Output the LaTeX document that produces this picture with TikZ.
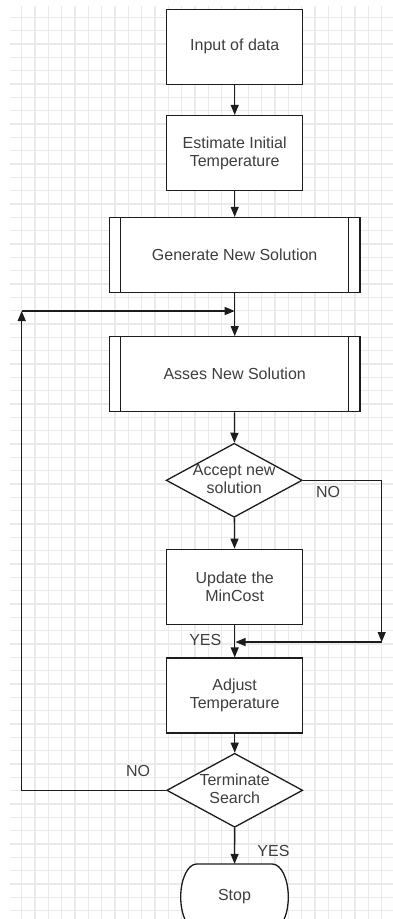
\documentclass[tikz,border=0pt]{standalone}
\usepackage{fontspec}
\setmainfont{Liberation Sans}
\usetikzlibrary{shapes.geometric,arrows.meta}
\definecolor{gridgray}{RGB}{234,234,234}
\definecolor{ink}{RGB}{28,28,28}
\definecolor{txt}{RGB}{62,62,62}

\begin{document}
\begin{tikzpicture}[x=1pt,y=-1pt,
  font=\fontsize{16}{18}\selectfont,
  every node/.style={text=txt},
  box/.style={draw=ink, line width=1.3pt, fill=white, rectangle, align=center,
    minimum width=136pt, minimum height=75pt, inner sep=0pt},
  subproc/.style={box, minimum width=250.7pt,
    path picture={\draw[ink, line width=1.3pt]
      ([xshift=11.3pt]path picture bounding box.north west) -- ([xshift=11.3pt]path picture bounding box.south west)
      ([xshift=-11.3pt]path picture bounding box.north east) -- ([xshift=-11.3pt]path picture bounding box.south east);}},
  decision/.style={draw=ink, line width=1.3pt, fill=white, diamond,
    minimum width=136pt, minimum height=74pt, inner sep=0pt},
  terminal/.style={rectangle, minimum width=107.6pt, minimum height=66pt, inner sep=0pt},
  outline/.style={draw=ink, line width=1.3pt, fill=white},
  flow/.style={draw=ink, line width=1.3pt, -{Triangle[length=10pt,width=8pt]}},
  lbl/.style={inner sep=0pt}
]
\useasboundingbox (0,0) rectangle (393,919);
\clip (0,0) rectangle (393,919);
\fill[white] (0,0) rectangle (393,919);

% drawing grid
\foreach \i in {0,...,27}
  \draw[gridgray, line width=1.5pt] ({21.7+13.333*\i},6) -- ({21.7+13.333*\i},919);
\foreach \j in {0,...,67}
  \draw[gridgray, line width=1.5pt] (10,{17.3+13.333*\j}) -- (393,{17.3+13.333*\j});

% process steps
\node[box] (in) at (234.7,46.7) {Input of data};
\node[box] (est) at (234.7,153) {Estimate Initial\\Temperature};
\node[subproc] (gen) at (234.7,255) {Generate New Solution};
\node[subproc] (asses) at (234.7,374.2) {Asses New Solution};
\node[decision] (acc) at (234.2,480.3)
  {\makebox[0pt]{\smash{\raisebox{-4.5pt}{\begin{tabular}{@{}c@{}}Accept new\\solution\end{tabular}}}}};
\node[box] (upd) at (234.7,586.7) {Update the\\MinCost};
\node[box] (adj) at (234.7,695.5) {Adjust\\Temperature};
\node[decision] (term) at (234.7,790.3)
  {\makebox[0pt]{\smash{\raisebox{-4.5pt}{\begin{tabular}{@{}c@{}}Terminate\\Search\end{tabular}}}}};

% terminator with elliptic ends
\path[outline] (234.5,864) ++(-37.8,0) -- ++(75.6,0)
  arc[start angle=90, end angle=-90, x radius=16pt, y radius=33pt]
  -- ++(-75.6,0)
  arc[start angle=270, end angle=90, x radius=16pt, y radius=33pt] -- cycle;
\node[terminal] (stop) at (234.5,897) {\raisebox{2pt}{Stop}};

% branch corners
\coordinate (lc) at (21.7,311);
\coordinate (lm) at (234.7,311);
\coordinate (rc) at (381.7,642);
\coordinate (rm) at (235.5,642);

% connectors
\draw[flow] (in) -- (est);
\draw[flow] (est) -- (gen);
\draw[flow] (gen) -- (asses);
\draw[flow] (asses) -- (acc);
\draw[flow] (acc) -- (upd);
\draw[flow] (upd) -- (adj);
\draw[flow] (adj) -- (term);
\draw[flow] (term) -- (stop);
\draw[flow] (acc.east) -- (rc |- acc.east) -- (rc);
\draw[flow] (rc) -- (rm);
\draw[flow] (term.west) -- (lc |- term.west) -- (lc);
\draw[flow] (lc) -- (lm);

% branch labels
\node[lbl] (noA) at (328,491.7) {NO};
\node[lbl] (yesA) at (205.3,640) {YES};
\node[lbl] (noT) at (138,770.7) {NO};
\node[lbl] (yesT) at (273.5,850.7) {YES};
\end{tikzpicture}
\end{document}
